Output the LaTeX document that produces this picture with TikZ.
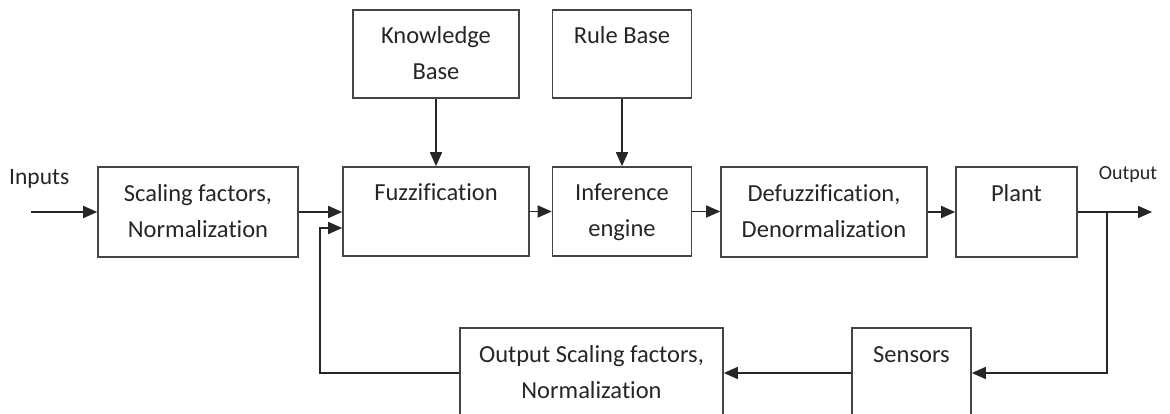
\documentclass[tikz,border=0pt]{standalone}
\usepackage{fontspec}
\setmainfont{Carlito}[Ligatures=NoCommon]
\usetikzlibrary{arrows.meta}
\definecolor{edge}{HTML}{454545}
\definecolor{ink}{HTML}{262626}
\tikzset{
  blk/.style={draw=edge, line width=1.6pt, fill=white, inner sep=0pt, align=center,
    text=ink, font=\fontsize{24.5}{36}\selectfont},
  lbl/.style={inner sep=0pt, text=ink},
  flow/.style={draw=ink, line width=1.6pt, -{Triangle[length=14pt,width=12pt]}},
}
\begin{document}
\begin{tikzpicture}[x=1pt,y=-1pt]
\clip (0,0) rectangle (1170,414);
\fill[white] (0,0) rectangle (1170,414);

% upper blocks
\node[blk, minimum width=166pt, minimum height=88pt] (kb) at (436,54) {\strut Knowledge\\\strut Base};
\node[blk, minimum width=139pt, minimum height=88pt] (rb) at (622,54) {\strut Rule Base\\\strut};

% forward chain
\node[blk, minimum width=200pt, minimum height=90pt] (sc) at (198,212) {\strut Scaling factors,\\\strut Normalization};
\node[blk, minimum width=186pt, minimum height=89pt] (fz) at (436,211.5) {\strut Fuzzification\\\strut};
\node[blk, minimum width=139pt, minimum height=89pt] (inf) at (622,211.5) {\strut Inference\\\strut engine};
\node[blk, minimum width=206pt, minimum height=90pt] (df) at (824,212) {\strut Defuzzification,\\\strut Denormalization};
\node[blk, minimum width=121pt, minimum height=90pt] (pl) at (1016.5,212) {\strut Plant\\\strut};

% feedback chain
\node[blk, minimum width=263pt, minimum height=90pt] (os) at (591.5,373) {\strut Output Scaling factors,\\\strut Normalization};
\node[blk, minimum width=119pt, minimum height=90pt] (sn) at (911.5,373) {\strut Sensors\\\strut};

% signal labels
\node[lbl, anchor=west, font=\fontsize{23.5}{28}\selectfont] (inlbl) at (9,179) {Inputs};
\node[lbl, font=\fontsize{20}{24}\selectfont] (outlbl) at (1128,175) {Output};

% free ends and bends
\coordinate (in) at (31,212);
\coordinate (out) at (1152,212);
\coordinate (br) at (1107,212);
\coordinate (fb) at (320,228);

% connectors
\draw[flow] (in) -- (sc.west);
\draw[flow] (sc.east) -- (sc.east -| fz.west);
\draw[flow] (kb.south) -- (fz.north);
\draw[flow] (rb.south) -- (inf.north);
\draw[flow] (fz.east) -- (inf.west);
\draw[flow] (inf.east) -- (inf.east -| df.west);
\draw[flow] (df.east) -- (pl.west);
\draw[flow] (pl.east) -- (out);
\draw[flow] (br) |- (sn.east);
\draw[flow] (sn.west) -- (os.east);
\draw[flow] (os.west) -| (fb) -- (fb -| fz.west);
\end{tikzpicture}
\end{document}
